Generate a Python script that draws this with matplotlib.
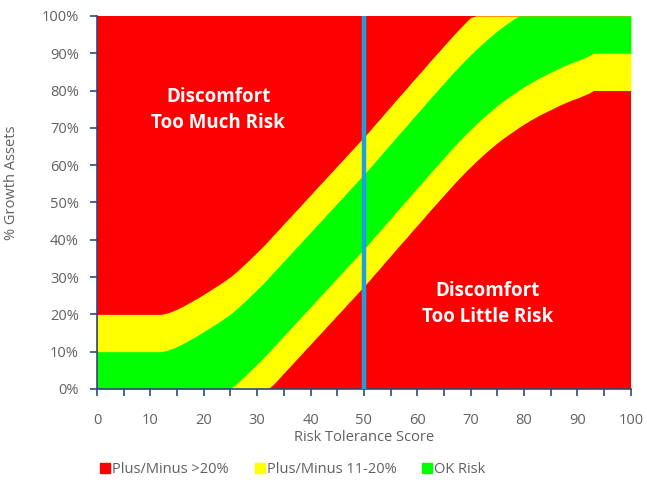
import numpy as np
import matplotlib.pyplot as plt
from matplotlib.lines import Line2D

# risk tolerance score 0..100 and the target % growth assets for each score
scores = list(range(0, 101))
target_growth = [
    0, 0, 0, 0, 0, 0, 0, 0, 0, 0,            # 0-9
    0, 0, 0, 0.3, 0.8, 1.4, 2.1, 2.9, 3.7, 4.5,   # 10-19
    5.4, 6.3, 7.2, 8.1, 9.1, 10.1, 11.3, 12.6, 13.9, 15.3,  # 20-29
    16.7, 18.1, 19.6, 21.2, 22.7, 24.3, 25.8, 27.4, 28.9, 30.5,  # 30-39
    32.0, 33.6, 35.1, 36.7, 38.2, 39.8, 41.3, 42.9, 44.4, 46.0,  # 40-49
    47.5, 49.1, 50.8, 52.4, 54.1, 55.7, 57.4, 59.0, 60.6, 62.3,  # 50-59
    63.9, 65.5, 67.2, 68.8, 70.4, 72.0, 73.6, 75.2, 76.7, 78.2,  # 60-69
    79.6, 81.0, 82.3, 83.6, 84.8, 86.0, 87.1, 88.1, 89.1, 90.1,  # 70-79
    91.0, 91.9, 92.7, 93.5, 94.2, 94.9, 95.6, 96.3, 96.9, 97.5,  # 80-89
    98.0, 98.6, 99.2, 100, 100, 100, 100, 100, 100, 100,  # 90-99
    100,
]
ok_band = 10       # plus/minus for OK risk
warn_band = 20     # plus/minus for the yellow zone
client_score = 50

legend_labels = ['Plus/Minus >20%', 'Plus/Minus 11-20%', 'OK Risk']
red, yellow, green = '#ff0000', '#ffff00', '#00ff00'
text_grey = '#606060'
axis_blue = '#2f4a7a'

plt.rcParams['font.family'] = ['Open Sans', 'DejaVu Sans']

x = np.array(scores)
c = np.array(target_growth, dtype=float)

fig = plt.figure(figsize=(6.47, 4.82), dpi=100)
ax = fig.add_axes([0.150, 0.193, 0.825, 0.774])

ax.fill_between(x, 0, 100, color=red, lw=0)
ax.fill_between(x, np.clip(c - warn_band, 0, 100), np.clip(c + warn_band, 0, 100),
                color=yellow, lw=0)
ax.fill_between(x, np.clip(c - ok_band, 0, 100), np.clip(c + ok_band, 0, 100),
                color=green, lw=0)

ax.axvline(client_score, color='#1ba1e2', lw=3.2, zorder=3)

ax.text(22.7, 74.8, 'Discomfort\nToo Much Risk', color='white', fontsize=13.5,
        fontweight='bold', ha='center', va='center', linespacing=1.45)
ax.text(73.2, 22.8, 'Discomfort\nToo Little Risk', color='white', fontsize=13.5,
        fontweight='bold', ha='center', va='center', linespacing=1.45)

ax.set_xlim(0, 100)
ax.set_ylim(0, 100)
ax.set_xticks(range(0, 101, 10))
ax.set_xticks(range(0, 101, 5), minor=True)
ax.set_yticks(range(0, 101, 10))
ax.set_yticklabels([f'{v}%' for v in range(0, 101, 10)])

for side in ['top', 'right']:
    ax.spines[side].set_visible(False)
for side in ['left', 'bottom']:
    ax.spines[side].set_color(axis_blue)
    ax.spines[side].set_linewidth(1.2)
ax.tick_params(which='both', direction='out', color=axis_blue, width=1.2,
               labelcolor=text_grey, labelsize=10.5)
ax.tick_params(which='major', length=5)
ax.tick_params(which='minor', length=5)
ax.tick_params(axis='x', pad=12)
ax.tick_params(axis='y', pad=8)

ax.set_xlabel('Risk Tolerance Score', color=text_grey, fontsize=10.5, labelpad=2)
ax.set_ylabel('% Growth Assets', color=text_grey, fontsize=10.5)
ax.yaxis.set_label_coords(-0.146, 0.552)

handles = [Line2D([], [], marker='s', ls='', markersize=7.5, color=col)
           for col in (red, yellow, green)]
fig.legend(handles, legend_labels, loc='center left', bbox_to_anchor=(0.142, 0.025),
           ncol=3, frameon=False, fontsize=10.5, labelcolor=text_grey,
           handletextpad=0.0, columnspacing=1.6, handlelength=1.0,
           borderaxespad=0)

fig.savefig('out.png', dpi=100)
